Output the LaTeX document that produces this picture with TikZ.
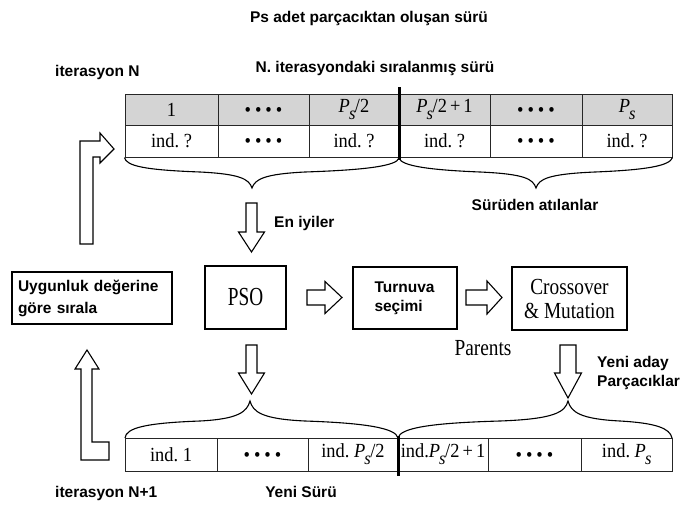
\documentclass[tikz,border=0pt]{standalone}
\usepackage{fontspec}
\setmainfont{Liberation Serif}
\newfontfamily\labfont{Liberation Sans}
\usepackage{graphicx}

% condensed serif text
\newcommand{\tc}[1]{\scalebox{0.92}[1]{#1}}
\newcommand{\tm}[1]{\scalebox{0.84}[1]{#1}}
% P with a dropped subscript s
\newcommand{\Ps}{\textit{P}\kern-1pt\raisebox{-7pt}{\scalebox{0.9}{\textit{s}}}\kern-0.5pt}
% four bullets, centred on the baseline of the cell
\newcommand{\dd}{\smash{\raisebox{-6.8pt}{\fontsize{20}{20}\selectfont\textbullet\kern4.3pt\textbullet\kern4.3pt\textbullet\kern4.3pt\textbullet}}}
% one table cell: name, x1, x2, y1, y2, text, style
\newcommand{\cellbox}[7]{\node[#7, minimum width={(#3-#2)*1pt}, minimum height={(#5-#4)*1pt}] (#1) at ({(#2+#3)/2},{(#4+#5)/2}) {\tc{#6}};}
% hollow block arrow pointing down: x, ytop, shaft half width, head half width, ybase, ytip
\newcommand{\blkdown}[6]{\draw[blk] ({#1-#3},#2) -- ({#1+#3},#2) -- ({#1+#3},#5) -- ({#1+#4},#5) -- (#1,#6) -- ({#1-#4},#5) -- ({#1-#3},#5) -- cycle;}
% hollow block arrow pointing right: y, xleft, shaft half height, head half height, xbase, xtip
\newcommand{\blkright}[6]{\draw[blk] (#2,{#1-#3}) -- (#5,{#1-#3}) -- (#5,{#1-#4}) -- (#6,#1) -- (#5,{#1+#4}) -- (#5,{#1+#3}) -- (#2,{#1+#3}) -- cycle;}

\begin{document}
\begin{tikzpicture}[x=1pt,y=-1pt,
  lab/.style={font=\labfont\bfseries\fontsize{15.5}{19}\selectfont, inner sep=0pt},
  box/.style={draw, line width=1.1pt, inner sep=0pt},
  cell/.style={draw=black!85, line width=1pt, inner sep=0pt, font=\fontsize{20}{22}\selectfont},
  hdr/.style={cell, fill=black!17},
  blk/.style={draw, line width=1.1pt, fill=white, line join=miter},
  brc/.style={draw, line width=1.1pt},
  sep/.style={line width=3pt}
]
\useasboundingbox (0,0) rectangle (680,506);
\fill[white] (0,0) rectangle (680,506);

% titles
\node[lab] (title) at (369,18) {Ps adet parçacıktan oluşan sürü};
\node[lab] (sorted) at (375,68) {N. iterasyondaki sıralanmış sürü};
\node[lab, anchor=west] (itN) at (55,72) {iterasyon N};

% sorted swarm of iteration N
\cellbox{h1}{125}{218}{94}{125}{1}{hdr}
\cellbox{h2}{218}{309}{94}{125}{\dd}{hdr}
\cellbox{h3}{309}{399}{94}{125}{\Ps/2}{hdr}
\cellbox{h4}{399}{490}{94}{125}{\Ps/2\,+\,1}{hdr}
\cellbox{h5}{490}{582}{94}{125}{\dd}{hdr}
\cellbox{h6}{582}{672}{94}{125}{\Ps}{hdr}
\cellbox{r1}{125}{218}{125}{157}{ind.\ ?}{cell}
\cellbox{r2}{218}{309}{125}{157}{\dd}{cell}
\cellbox{r3}{309}{399}{125}{157}{ind.\ ?}{cell}
\cellbox{r4}{399}{490}{125}{157}{ind.\ ?}{cell}
\cellbox{r5}{490}{582}{125}{157}{\dd}{cell}
\cellbox{r6}{582}{672}{125}{157}{ind.\ ?}{cell}
\coordinate (topsepA) at (399,87);
\coordinate (topsepB) at (399,160);
\draw[sep] (topsepA) -- (topsepB);

% braces under the sorted swarm
\draw[brc] (r1.south west) .. controls (126,166) and (145,170) .. (200,172)
  .. controls (240,174) and (249,179) .. (252,188)
  .. controls (255,179) and (265,174) .. (305,172)
  .. controls (365,170) and (397,166) .. (399,158);
\draw[brc] (399,158) .. controls (401,166) and (430,170) .. (480,172)
  .. controls (525,174) and (533,179) .. (536,188)
  .. controls (539,179) and (548,174) .. (595,172)
  .. controls (645,170) and (670,166) .. (r6.south east);
\node[lab] (discard) at (535,205) {Sürüden atılanlar};

% best half goes to PSO
\blkdown{251.5}{203}{5.5}{13}{232}{252}
\node[lab, anchor=west] (best) at (274,223) {En iyiler};

% processing boxes
\node[box, minimum width=160pt, minimum height=52pt, font=\labfont\bfseries\fontsize{15.5}{22}\selectfont, align=left, text width=148pt] (sort) at (92,298) {Uygunluk değerine\\göre sırala};
\node[box, minimum width=81pt, minimum height=63pt, font=\fontsize{26}{28}\selectfont] (pso) at (245.5,297.5) {\scalebox{0.74}[1]{PSO}};
\node[box, minimum width=104pt, minimum height=62pt, font=\labfont\bfseries\fontsize{15.5}{19}\selectfont, align=left, text width=61pt] (tour) at (405,298) {Turnuva\\seçimi};
\node[box, minimum width=115pt, minimum height=63pt, font=\fontsize{23}{24}\selectfont, align=center] (cm) at (569.5,298.5) {\tm{Crossover}\\\tm{\& Mutation}};
\node[font=\fontsize{23}{24}\selectfont, inner sep=0pt] (parents) at (483,348) {\tm{Parents}};

\blkright{297.5}{307}{7.5}{16}{325}{342}
\blkright{297.5}{466}{7.5}{16.5}{487}{502}

% outputs to the new swarm
\blkdown{251.5}{345}{5.5}{13}{373}{394}
\blkdown{568}{345}{8}{13.5}{373}{398}
\node[lab, anchor=west, align=left, font=\labfont\bfseries\fontsize{15.5}{19}\selectfont] (cand) at (597,372.5) {Yeni aday\\Parçacıklar};

% braces over the new swarm
\draw[brc] (125,438) .. controls (126,428) and (145,423) .. (200,421)
  .. controls (238,419) and (247,412) .. (250,401)
  .. controls (253,412) and (262,419) .. (305,421)
  .. controls (365,423) and (396,428) .. (398,438);
\draw[brc] (398,438) .. controls (400,428) and (430,423) .. (500,421)
  .. controls (555,419) and (565,412) .. (568,401)
  .. controls (571,412) and (580,419) .. (620,421)
  .. controls (655,423) and (670,428) .. (672,438);

% new swarm
\cellbox{n1}{125}{217}{438}{471}{ind.\ 1}{cell}
\cellbox{n2}{217}{308}{438}{471}{\dd}{cell}
\cellbox{n3}{308}{398}{438}{471}{ind.\ \Ps/2}{cell}
\cellbox{n4}{398}{488}{438}{471}{ind.\Ps/2\,+\,1}{cell}
\cellbox{n5}{488}{581}{438}{471}{\dd}{cell}
\cellbox{n6}{581}{672}{438}{471}{ind.\ \Ps}{cell}
\coordinate (botsepA) at (398,436);
\coordinate (botsepB) at (398,476);
\draw[sep] (botsepA) -- (botsepB);

\node[lab, anchor=west] (itN1) at (55,493) {iterasyon N+1};
\node[lab] (newswarm) at (301,492) {Yeni Sürü};

% loop arrows on the left
\draw[blk] (81,460) -- (81,369) -- (75,369) -- (87,350) -- (99,369) -- (92,369) -- (92,442) -- (109,442) -- (109,460) -- cycle;
\draw[blk] (80,244) -- (80,141) -- (100,141) -- (100,133) -- (114,149) -- (100,163) -- (100,157) -- (93,157) -- (93,244) -- cycle;
\end{tikzpicture}
\end{document}
